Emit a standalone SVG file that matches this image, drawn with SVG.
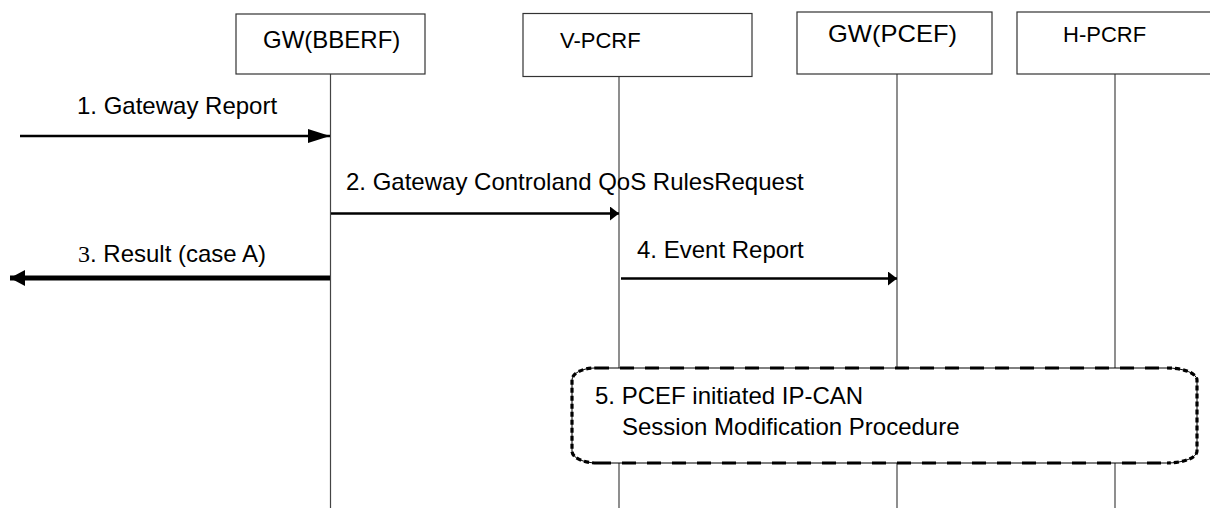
<svg xmlns="http://www.w3.org/2000/svg" width="1210" height="509" viewBox="0 0 1210 509">
<style>
  .box { fill: #ffffff; stroke: #333333; stroke-width: 1.2; }
  .life { stroke: #444444; stroke-width: 1.2; fill: none; }
  .lbl { font-family: "Liberation Sans", Arial, sans-serif; font-size: 24px; fill: #000000; }
  .hdr { font-family: "Liberation Sans", Arial, sans-serif; font-size: 22px; fill: #000000; }
  .msg { stroke: #000000; stroke-width: 2.6; fill: none; }
  .msgthick { stroke: #000000; stroke-width: 5; fill: none; }
  .frameThin { fill: #ffffff; stroke: #000000; stroke-width: 1; }
  .dashH { fill: none; stroke: #000000; stroke-width: 3; stroke-dasharray: 14 11; }
  .dashV { fill: none; stroke: #000000; stroke-width: 3.2; stroke-dasharray: 5 3; }
</style>
<defs>
  <marker id="headBig" markerUnits="userSpaceOnUse" markerWidth="24" markerHeight="14" refX="22" refY="7" orient="auto">
    <path d="M0,0 L22,7 L0,14 Z" fill="#000000"/>
  </marker>
  <marker id="headSmall" markerUnits="userSpaceOnUse" markerWidth="10" markerHeight="14" refX="9" refY="7" orient="auto">
    <path d="M0,0 L9,7 L0,14 Z" fill="#000000"/>
  </marker>
  <marker id="headThick" markerUnits="userSpaceOnUse" markerWidth="16" markerHeight="16" refX="15" refY="8" orient="auto">
    <path d="M0,0 L15,8 L0,16 Z" fill="#000000"/>
  </marker>
</defs>

<g id="lifelines">
  <line class="life" x1="330.5" y1="74" x2="330.5" y2="508"/>
  <line class="life" x1="619" y1="76" x2="619" y2="508"/>
  <line class="life" x1="897" y1="74" x2="897" y2="508"/>
  <line class="life" x1="1115" y1="74" x2="1115" y2="508"/>
</g>

<g id="node-gw-bberf">
  <rect class="box" x="236" y="14" width="189" height="60"/>
  <text class="lbl" x="263" y="48">GW(BBERF)</text>
</g>
<g id="node-v-pcrf">
  <rect class="box" x="523" y="13.5" width="229" height="63"/>
  <text class="hdr" x="560" y="48">V-PCRF</text>
</g>
<g id="node-gw-pcef">
  <rect class="box" x="797" y="12" width="195" height="62"/>
  <text class="lbl" x="828" y="42" textLength="129" lengthAdjust="spacingAndGlyphs">GW(PCEF)</text>
</g>
<g id="node-h-pcrf">
  <rect class="box" x="1017" y="12" width="200" height="62"/>
  <text class="hdr" x="1063" y="42">H-PCRF</text>
</g>

<g id="connectors">
  <line class="msg" x1="20" y1="136" x2="330" y2="136" marker-end="url(#headBig)"/>
  <text class="lbl" x="77" y="114">1. Gateway Report</text>

  <line class="msg" x1="331" y1="213.5" x2="619" y2="213.5" marker-end="url(#headSmall)"/>
  <text class="lbl" x="346" y="190">2. Gateway Controland QoS RulesRequest</text>

  <line class="msgthick" x1="330" y1="278" x2="10" y2="278" marker-end="url(#headThick)"/>
  <text class="lbl" x="78" y="262"><tspan font-family="'Liberation Serif', serif">3</tspan>. Result (case A)</text>

  <line class="msg" x1="621" y1="278.5" x2="897" y2="278.5" marker-end="url(#headSmall)"/>
  <text class="lbl" x="637" y="258">4. Event Report</text>
</g>

<g id="node-procedure">
  <path class="frameThin" d="M595,368 H1167 A30,12 0 0 1 1197,380 V451 A30,12 0 0 1 1167,463 H597 A25,12 0 0 1 572,451 V380 A23,12 0 0 1 595,368 Z"/>
  <path class="dashH" d="M595,368 H1167"/>
  <path class="dashH" d="M597,463 H1167"/>
  <path class="dashV" d="M1167,368 A30,12 0 0 1 1197,380 V451 A30,12 0 0 1 1167,463"/>
  <path class="dashV" d="M597,463 A25,12 0 0 1 572,451 V380 A23,12 0 0 1 595,368"/>
  <text class="lbl" x="595" y="404">5. PCEF initiated IP-CAN</text>
  <text class="lbl" x="622" y="435">Session Modification Procedure</text>
</g>
</svg>
